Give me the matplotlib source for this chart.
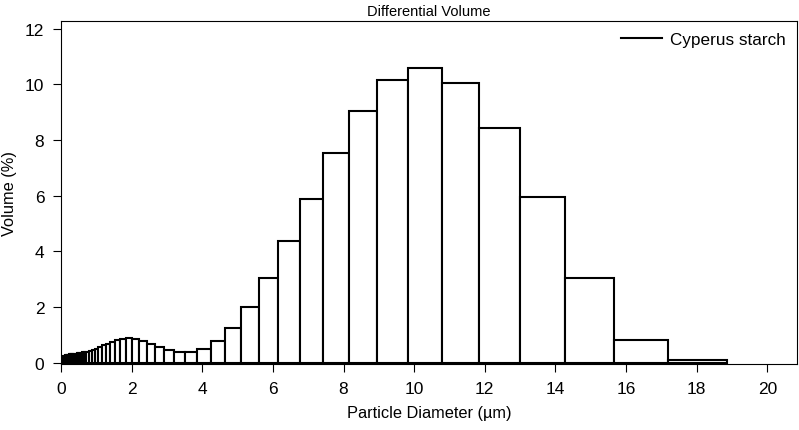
import matplotlib
matplotlib.use("Agg")
import matplotlib.pyplot as plt
import numpy as np

plt.rcParams["font.family"] = ["Liberation Sans", "DejaVu Sans"]

# channel edges (um) of the particle size analyser
bin_edges = [
    0.040, 0.044, 0.048, 0.053, 0.058, 0.064, 0.070, 0.077, 0.084, 0.093,
    0.102, 0.112, 0.122, 0.134, 0.148, 0.162, 0.178, 0.195, 0.214, 0.235,
    0.258, 0.284, 0.311, 0.342, 0.375, 0.412, 0.452, 0.496, 0.545, 0.598,
    0.657, 0.721, 0.791, 0.869, 0.953, 1.047, 1.149, 1.261, 1.385, 1.520,
    1.669, 1.832, 2.011, 2.207, 2.423, 2.660, 2.920, 3.205, 3.519, 3.863,
    4.240, 4.655, 5.110, 5.610, 6.158, 6.760, 7.421, 8.147, 8.943, 9.817,
    10.78, 11.83, 12.99, 14.26, 15.65, 17.18, 18.86,
]
# differential volume (%) per channel
volume = [
    0.17, 0.18, 0.19, 0.20, 0.21, 0.22, 0.23, 0.24, 0.24, 0.25,
    0.25, 0.26, 0.26, 0.27, 0.27, 0.28, 0.28, 0.29, 0.29, 0.30,
    0.30, 0.31, 0.31, 0.32, 0.32, 0.33, 0.34, 0.35, 0.36, 0.37,
    0.38, 0.40, 0.43, 0.47, 0.51, 0.56, 0.62, 0.68, 0.76, 0.82,
    0.86, 0.88, 0.85, 0.78, 0.68, 0.56, 0.46, 0.40, 0.40, 0.48,
    0.77, 1.23, 1.99, 3.03, 4.37, 5.90, 7.53, 9.03, 10.15, 10.59,
    10.06, 8.43, 5.94, 3.04, 0.81, 0.09,
]
x_ticks = [0, 2, 4, 6, 8, 10, 12, 14, 16, 18, 20]
y_ticks = [0, 2, 4, 6, 8, 10, 12]

edges = np.array(bin_edges)
fig = plt.figure(figsize=(7.99, 4.31), dpi=100)
ax = fig.add_axes([0.0763, 0.1535, 0.9212, 0.7962])

ax.bar(edges[:-1], volume, width=np.diff(edges), align="edge",
       facecolor="white", edgecolor="black", linewidth=1.5)
ax.plot([], [], color="black", linewidth=1.5, label="Cyperus starch")

ax.set_xlim(0, 20.84)
ax.set_ylim(-0.04, 12.29)
ax.set_xticks(x_ticks)
ax.set_yticks(y_ticks)
ax.tick_params(direction="out", length=6, width=0.8, labelsize=12.5, pad=6)
for s in ax.spines.values():
    s.set_linewidth(0.8)

ax.set_title("Differential Volume", fontsize=10.5, pad=4)
ax.set_xlabel("Particle Diameter (\u00b5m)", fontsize=11.8, labelpad=7)
ax.set_ylabel("Volume (%)", fontsize=11.8, labelpad=6)
ax.legend(loc="upper right", frameon=False, fontsize=12.3, handlelength=2.4,
          handletextpad=0.5, borderaxespad=0.25)

fig.savefig("out.png", dpi=100)
